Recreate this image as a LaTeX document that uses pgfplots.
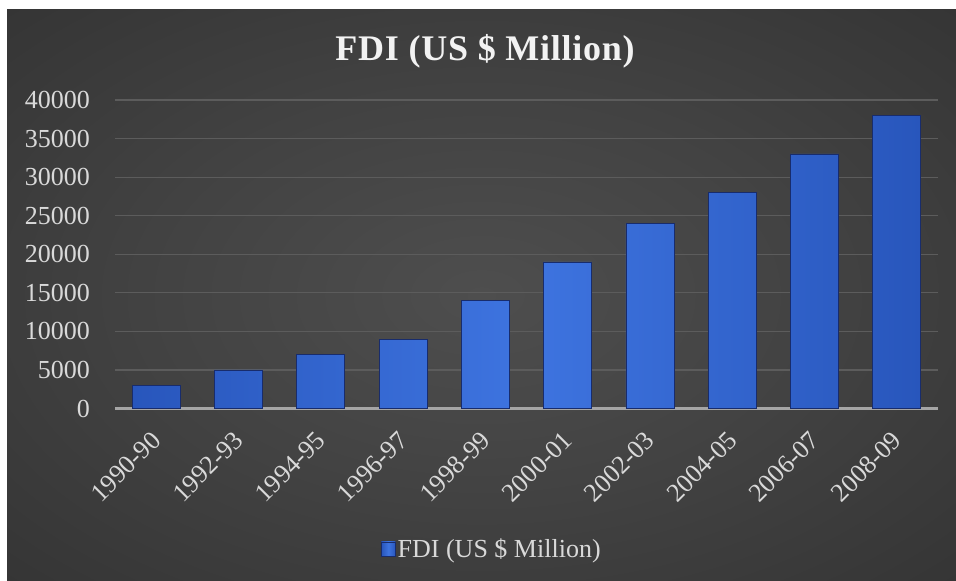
\documentclass[border=0pt]{standalone}
\usepackage{pgfplots}
\pgfplotsset{compat=1.18}
\usepackage{fontspec}
\setmainfont{Liberation Serif}
\definecolor{bgin}{RGB}{78,78,78}
\definecolor{bgmid}{RGB}{66,66,66}
\definecolor{bgout}{RGB}{46,46,46}
\definecolor{bgout2}{RGB}{36,36,36}
\definecolor{labelgray}{RGB}{217,217,217}
\definecolor{gridgray}{RGB}{92,92,92}
\definecolor{axisgray}{RGB}{165,165,165}
\definecolor{barmid}{RGB}{62,116,224}
\definecolor{baredge}{RGB}{40,86,188}
\definecolor{barline}{RGB}{24,44,108}
\pgfdeclareradialshading{bgshade}{\pgfpoint{0bp}{0bp}}{color(0bp)=(bgin); color(18bp)=(bgmid); color(45bp)=(bgout); color(72bp)=(bgout2)}
\pgfplotstableread{
idx val
0 3000
1 5000
2 7000
3 9000
4 14000
5 19000
6 24000
7 28000
8 33000
9 38000
}\fdidata
\begin{document}
\begin{tikzpicture}[x=1bp,y=1bp]
\useasboundingbox (0,0) rectangle (956,581);
\fill[white] (0,0) rectangle (956,581);
\shade[shading=bgshade] (7,0) rectangle (956,571);
\node[anchor=base, text=white!95!black, font=\fontsize{36bp}{40bp}\selectfont\bfseries\addfontfeature{LetterSpace=2.0}] at (485,520) {FDI (US \$ Million)};
\begin{axis}[
  at={(115bp,172.5bp)}, anchor=south west,
  width=823bp, height=308.5bp, scale only axis,
  xmin=-0.5, xmax=9.5, ymin=0, ymax=40000,
  axis line style={draw=none},
  major tick length=0pt,
  ytick={5000,10000,...,40000},
  extra y ticks={0},
  extra y tick style={major grid style={draw=axisgray, line width=2.5bp}},
  scaled y ticks=false,
  ymajorgrids,
  major grid style={draw=gridgray, line width=1.2bp},
  /pgf/number format/assume math mode=true,
  yticklabel style={/pgf/number format/fixed, /pgf/number format/1000 sep={}, font=\fontsize{26bp}{30bp}\selectfont, text=labelgray, inner sep=0pt, anchor=east, xshift=-25bp},
  xtick=data,
  xticklabels={1990-90,1992-93,1994-95,1996-97,1998-99,2000-01,2002-03,2004-05,2006-07,2008-09},
  xticklabel style={font=\fontsize{26bp}{30bp}\selectfont, text=labelgray, inner sep=0pt, xshift=-6bp, yshift=-21bp, rotate=45, anchor=north east},
  legend style={at={(axis description cs:0.458,-0.455)}, anchor=center, draw=none, fill=none, font=\fontsize{26bp}{30bp}\selectfont, text=labelgray, inner sep=0pt},
  legend image code/.code={\fill[barmid, draw=barline, line width=0.5bp] (0bp,-7bp) rectangle (14bp,7bp);},
  legend cell align=left,
  clip=false,
]
\addplot[ybar, bar width=48bp, draw=barline, line width=0.8bp, left color=baredge, right color=baredge, middle color=barmid] table[x=idx, y=val] {\fdidata};
\addlegendentry{FDI (US \$ Million)}
\end{axis}
\end{tikzpicture}
\end{document}
